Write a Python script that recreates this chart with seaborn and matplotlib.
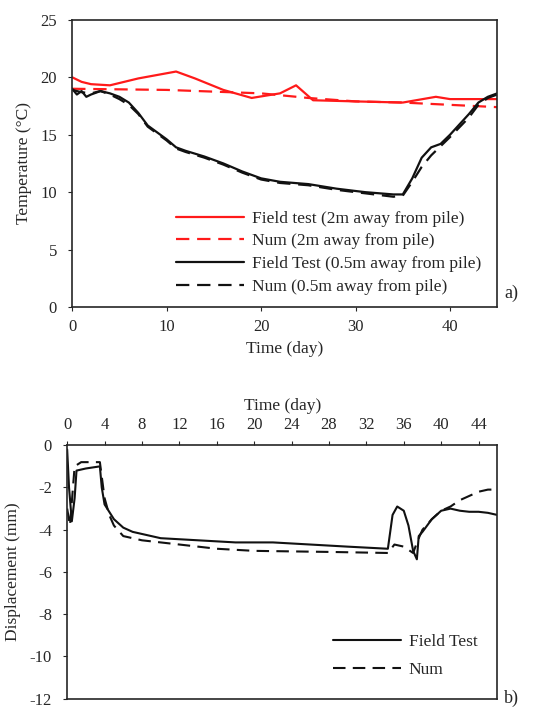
"""Pile temperature and displacement: field test vs numerical model."""

import matplotlib

matplotlib.use("Agg")
import matplotlib.pyplot as plt
import pandas as pd
import seaborn as sns

# --- a) temperature (degC) vs time (day) ---
red_test_day = [0, 1, 2, 4, 7, 11, 13, 16, 19, 22, 23.7, 25.5, 30, 35, 38.5, 40, 45]
red_test_temp = [20.0, 19.6, 19.4, 19.3, 19.9, 20.5, 19.9, 18.9, 18.2, 18.6, 19.3, 18.0, 17.9, 17.8, 18.3, 18.1, 18.1]

red_num_day = [0, 10, 20, 25, 30, 35, 40, 45]
red_num_temp = [19.0, 18.9, 18.6, 18.2, 17.9, 17.8, 17.6, 17.4]

blk_test_day = [0, 0.5, 1, 1.5, 2, 3, 4, 5, 6, 7, 8, 9, 10, 11, 12, 14, 16, 18, 20,
                22, 25, 28, 31, 34, 35, 36, 37, 38, 39, 40, 42, 43, 44, 45]
blk_test_temp = [19.0, 18.5, 18.8, 18.3, 18.5, 18.8, 18.6, 18.3, 17.8, 16.9, 15.8, 15.2,
                 14.6, 13.9, 13.6, 13.1, 12.5, 11.8, 11.2, 10.9, 10.7, 10.3, 10.0, 9.8,
                 9.8, 11.2, 13.0, 13.9, 14.2, 15.0, 16.8, 17.8, 18.3, 18.6]

blk_num_day = [0, 1, 2, 3, 4, 5, 6, 7, 8, 9, 10, 11, 12, 14, 16, 18, 20, 22, 25, 28,
               31, 34, 35, 36, 37, 38, 39, 40, 42, 43, 44, 45]
blk_num_temp = [18.9, 18.7, 18.6, 18.8, 18.5, 18.1, 17.6, 16.8, 15.7, 15.1, 14.5, 13.8,
                13.5, 13.0, 12.4, 11.7, 11.1, 10.8, 10.6, 10.2, 9.9, 9.6, 9.7, 10.9,
                12.2, 13.2, 14.0, 14.8, 16.5, 17.6, 18.2, 18.5]

# --- b) displacement (mm) vs time (day) ---
disp_test_day = [0, 0.2, 0.5, 0.8, 1.0, 2, 3.5, 3.7, 4.0, 5, 6, 7, 8, 9, 10, 14, 18, 22,
                 26, 30, 34.3, 34.8, 35.3, 36.0, 36.5, 37.0, 37.4, 37.6, 38, 39, 40, 41,
                 42, 43, 44, 45, 46]
disp_test_mm = [-0.2, -2.0, -3.6, -2.5, -1.2, -1.1, -1.0, -2.0, -2.8, -3.5, -3.9, -4.1,
                -4.2, -4.3, -4.4, -4.5, -4.6, -4.6, -4.7, -4.8, -4.9, -3.3, -2.9, -3.1,
                -3.8, -5.0, -5.4, -4.3, -4.1, -3.5, -3.1, -3.0, -3.1, -3.15, -3.15, -3.2, -3.3]

disp_num_day = [0, 0.3, 0.8, 1.5, 3.5, 4.0, 4.5, 5, 6, 8, 12, 16, 20, 28, 34.3, 35,
                36, 37, 37.5, 38, 39, 40, 41, 42, 43, 44, 45, 46]
disp_num_mm = [-3.0, -3.8, -1.0, -0.8, -0.8, -2.5, -3.3, -3.8, -4.3, -4.5, -4.7, -4.9,
               -5.0, -5.05, -5.1, -4.7, -4.8, -5.1, -4.5, -4.0, -3.5, -3.1, -2.9, -2.6,
               -2.4, -2.2, -2.1, -2.1]


def long_frame(parts):
    rows = []
    for name, xs, ys in parts:
        rows.append(pd.DataFrame({"day": xs, "value": ys, "series": name}))
    return pd.concat(rows, ignore_index=True)


sns.set_style("ticks")
plt.rcParams["font.family"] = ["Liberation Serif", "DejaVu Serif"]
plt.rcParams["font.size"] = 12
plt.rcParams["axes.labelsize"] = 12.5
plt.rcParams["xtick.labelsize"] = 12
plt.rcParams["ytick.labelsize"] = 12
plt.rcParams["axes.linewidth"] = 1.2
plt.rcParams["axes.unicode_minus"] = False
plt.rcParams["xtick.major.size"] = 3
plt.rcParams["ytick.major.size"] = 3
plt.rcParams["xtick.major.pad"] = 6
plt.rcParams["ytick.major.pad"] = 8

DASH = (6, 3.5)

fig = plt.figure(figsize=(5.55, 7.09), dpi=100)
ax1 = fig.add_axes([0.130, 0.567, 0.766, 0.405])
ax2 = fig.add_axes([0.121, 0.0145, 0.775, 0.3575])

temp = long_frame([
    ("Field test (2m away from pile)", red_test_day, red_test_temp),
    ("Num (2m away from pile)", red_num_day, red_num_temp),
    ("Field Test (0.5m away from pile)", blk_test_day, blk_test_temp),
    ("Num (0.5m away from pile)", blk_num_day, blk_num_temp),
])
temp_order = temp["series"].unique().tolist()
sns.lineplot(
    data=temp, x="day", y="value", hue="series", style="series",
    hue_order=temp_order, style_order=temp_order,
    palette=["#ff1a1a", "#ff1a1a", "#111111", "#111111"],
    dashes=[(None, None), DASH, (None, None), DASH],
    linewidth=1.6, sort=False, estimator=None, ax=ax1,
)
ax1.set_xlim(0, 45)
ax1.set_ylim(0, 25)
ax1.set_xticks([0, 10, 20, 30, 40])
ax1.set_yticks([0, 5, 10, 15, 20, 25])
ax1.set_xlabel("Time (day)", labelpad=4)
ax1.set_ylabel("Temperature (°C)", labelpad=6)
for side in ["top", "right"]:
    ax1.spines[side].set_visible(True)
ax1.legend(loc="lower right", bbox_to_anchor=(0.99, 0.0), frameon=False, fontsize=12.5,
           handlelength=3.9, handletextpad=0.45, labelspacing=0.38, borderaxespad=0.3)
fig.text(0.908, 0.580, "a)", fontsize=13)

disp = long_frame([
    ("Field Test", disp_test_day, disp_test_mm),
    ("Num", disp_num_day, disp_num_mm),
])
sns.lineplot(
    data=disp, x="day", y="value", hue="series", style="series",
    palette=["#111111", "#111111"], dashes=[(None, None), DASH],
    linewidth=1.5, sort=False, estimator=None, ax=ax2,
)
ax2.set_xlim(0, 46)
ax2.set_ylim(-12, 0)
ax2.set_xticks(list(range(0, 45, 4)))
ax2.set_yticks(list(range(-12, 1, 2)))
ax2.xaxis.tick_top()
ax2.xaxis.set_label_position("top")
ax2.set_xlabel("Time (day)", labelpad=5)
ax2.set_ylabel("Displacement (mm)", labelpad=6)
for side in ["bottom", "right"]:
    ax2.spines[side].set_visible(True)
ax2.legend(loc="lower right", bbox_to_anchor=(0.99, 0.02), frameon=False, fontsize=12.5,
           handlelength=3.9, handletextpad=0.45, labelspacing=0.7)
fig.text(0.908, 0.008, "b)", fontsize=13)

fig.savefig("out.png", dpi=100)
